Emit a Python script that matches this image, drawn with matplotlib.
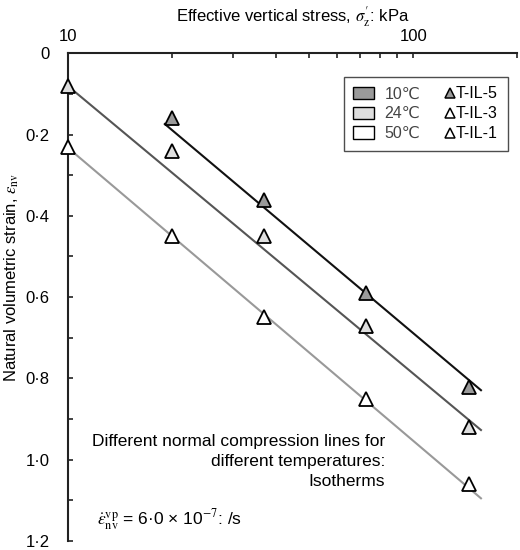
import matplotlib
matplotlib.use("Agg")
import matplotlib.pyplot as plt
from matplotlib.patches import Patch
from matplotlib.lines import Line2D
from matplotlib.legend_handler import HandlerBase
from matplotlib.ticker import FixedLocator, NullFormatter, FixedFormatter

plt.rcParams['font.family'] = ['Liberation Sans', 'DejaVu Sans']
plt.rcParams['mathtext.fontset'] = 'stix'

# ---- data ----
stress = [10, 20, 37, 73, 145]
strain_10C = [None, 0.16, 0.36, 0.59, 0.82]   # T-IL-5
strain_24C = [0.08, 0.24, 0.45, 0.67, 0.92]   # T-IL-3
strain_50C = [0.23, 0.45, 0.65, 0.85, 1.06]   # T-IL-1

line_10C_x = [19.1, 157]
line_10C_y = [0.174, 0.829]
line_24C_x = [10, 157]
line_24C_y = [0.080, 0.927]
line_50C_x = [10, 157]
line_50C_y = [0.232, 1.095]

x_major = [10, 100]
x_major_labels = ['10', '100']
x_minor = [20, 30, 40, 50, 60, 70, 80, 90, 200]
y_major = [0, 0.2, 0.4, 0.6, 0.8, 1.0, 1.2]
y_major_labels = ['0', '0·2', '0·4', '0·6', '0·8', '1·0', '1·2']
y_minor = [0.1, 0.3, 0.5, 0.7, 0.9, 1.1]

temps = ['10℃', '24℃', '50℃']
tests = ['T-IL-5', 'T-IL-3', 'T-IL-1']
fills = ['#9a9a9a', '#dedede', '#ffffff']
legend_tri_fills = ['#9a9a9a', '#ffffff', '#ffffff']
line_colors = ['#111111', '#555555', '#999999']

FS = 12
LEG_FS = 11.5


class RightTriangle(HandlerBase):
    def create_artists(self, legend, orig_handle, xdescent, ydescent, width, height,
                       fontsize, trans):
        ms = orig_handle.get_markersize()
        pad = legend.handletextpad * fontsize
        x = -xdescent + width + pad - ms / 2.0 - 1.0
        y = -ydescent + height / 2.0
        ln = Line2D([x], [y], linestyle='none', marker='^', ms=ms,
                    mfc=orig_handle.get_markerfacecolor(), mec='black', mew=1.1)
        ln.set_transform(trans)
        return [ln]


fig = plt.figure(figsize=(5.2, 5.5), dpi=100)
ax = fig.add_axes([0.1302, 0.0164, 0.8646, 0.8867])

ax.set_xscale('log')
ax.set_xlim(10, 200)
ax.set_ylim(1.2, 0)

lines = [(line_10C_x, line_10C_y), (line_24C_x, line_24C_y), (line_50C_x, line_50C_y)]
series = [strain_10C, strain_24C, strain_50C]
for (lx, ly), s, fc, lc in zip(lines, series, fills, line_colors):
    ax.plot(lx, ly, color=lc, lw=1.5, zorder=2, clip_on=False)
    xs = [x for x, v in zip(stress, s) if v is not None]
    ys = [v for v in s if v is not None]
    ax.plot(xs, ys, linestyle='none', marker='^', ms=9.5, mfc=fc, mec='black',
            mew=1.3, zorder=3, clip_on=False)

# axes styling
for side in ['right', 'bottom']:
    ax.spines[side].set_visible(False)
for side in ['left', 'top']:
    ax.spines[side].set_linewidth(1.5)
    ax.spines[side].set_color('#222222')

ax.xaxis.set_ticks_position('top')
ax.xaxis.set_label_position('top')
ax.xaxis.set_major_locator(FixedLocator(x_major))
ax.xaxis.set_major_formatter(FixedFormatter(x_major_labels))
ax.xaxis.set_minor_locator(FixedLocator(x_minor))
ax.xaxis.set_minor_formatter(NullFormatter())
ax.yaxis.set_major_locator(FixedLocator(y_major))
ax.yaxis.set_major_formatter(FixedFormatter(y_major_labels))
ax.yaxis.set_minor_locator(FixedLocator(y_minor))

ax.tick_params(axis='both', which='both', direction='in', length=3.5, width=1.2,
               color='#222222', labelsize=FS, labelcolor='black')
ax.tick_params(axis='x', which='major', pad=7)
ax.tick_params(axis='y', which='major', pad=13)

ax.set_xlabel("Effective vertical stress, $\\sigma_\\mathrm{z}'$: kPa", fontsize=FS, labelpad=5)
ax.set_ylabel("Natural volumetric strain, $\\varepsilon_\\mathrm{nv}$", fontsize=FS)
ax.yaxis.set_label_coords(-0.104, 0.54)

# legend
handles = [Patch(facecolor=f, edgecolor='black', lw=1.0) for f in fills]
tri_handles = [Line2D([], [], linestyle='none', marker='^', ms=7, mfc=f, mec='black')
               for f in legend_tri_fills]
handles += tri_handles
labels = temps + tests
leg = ax.legend(handles, labels, ncol=2, loc='upper right', bbox_to_anchor=(0.996, 0.968),
                fontsize=LEG_FS, frameon=True, fancybox=False, handlelength=1.3,
                handleheight=0.8, handletextpad=0.65, columnspacing=0.3,
                labelspacing=0.3, borderpad=0.6,
                handler_map={h: RightTriangle() for h in tri_handles})
leg.get_frame().set_edgecolor('#222222')
leg.get_frame().set_linewidth(1.0)
for i, t in enumerate(leg.get_texts()):
    if i < 3:
        t.set_color('#444444')

ax.text(0.706, 0.219, "Different normal compression lines for\ndifferent temperatures:\nIsotherms",
        transform=ax.transAxes, ha='right', va='top', fontsize=12.5, linespacing=1.4)
ax.text(0.0645, 0.0435,
        r"$\dot{\varepsilon}_\mathrm{nv}^\mathrm{vp}$ = 6·0 × 10$^{-7}$: /s",
        transform=ax.transAxes, ha='left', va='center', fontsize=12.5)

fig.savefig('out.png', dpi=100)
